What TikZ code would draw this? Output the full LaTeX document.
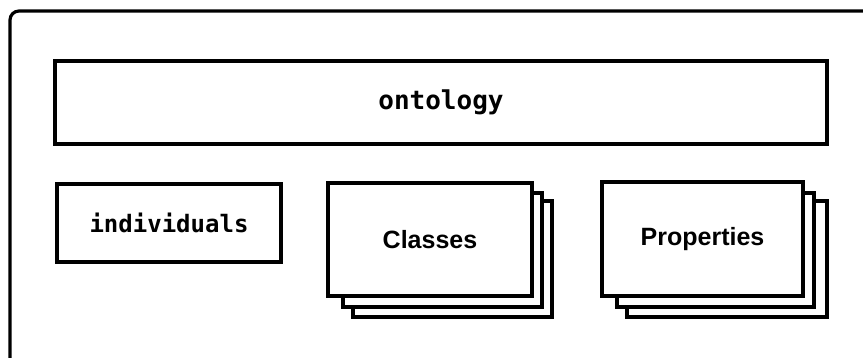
\documentclass[tikz,border=0pt]{standalone}
\usepackage{fontspec}
\newfontfamily\monof{DejaVu Sans Mono}
\newfontfamily\sansf{Liberation Sans}
\begin{document}
\begin{tikzpicture}[x=1pt,y=-1pt,
  box/.style={draw=black, line width=3.2pt, fill=white, inner sep=0pt, outer sep=0pt},
  monolabel/.style={font=\monof\bfseries\fontsize{26}{30}\selectfont},
  sanslabel/.style={font=\sansf\bfseries\fontsize{25}{30}\selectfont}]
\useasboundingbox (0,0) rectangle (863,357);
\clip (0,0) rectangle (863,357);
% outer frame (clipped at right and bottom)
\draw[line width=3.2pt, rounded corners=9pt] (10,11) rectangle (880,368);
% ontology
\node[box, minimum width=772pt, minimum height=83pt, monolabel] (onto) at (441,102.5) {ontology};
% individuals
\node[box, minimum width=224pt, minimum height=78pt, font=\monof\bfseries\fontsize{24}{28}\selectfont] (indiv) at (169,223) {individuals};
% classes stack
\node[box, minimum width=199pt, minimum height=116pt] (cls3) at (452.5,259) {};
\node[box, minimum width=199pt, minimum height=114pt] (cls2) at (442.5,250) {};
\node[box, minimum width=204pt, minimum height=113pt, sanslabel] (cls) at (430,239.5) {Classes};
% properties stack
\node[box, minimum width=200pt, minimum height=116pt] (prop3) at (727,259) {};
\node[box, minimum width=197pt, minimum height=114pt] (prop2) at (715.5,250) {};
\node[box, minimum width=201pt, minimum height=114pt, sanslabel] (prop) at (702.5,239) {Properties};
\end{tikzpicture}
\end{document}
